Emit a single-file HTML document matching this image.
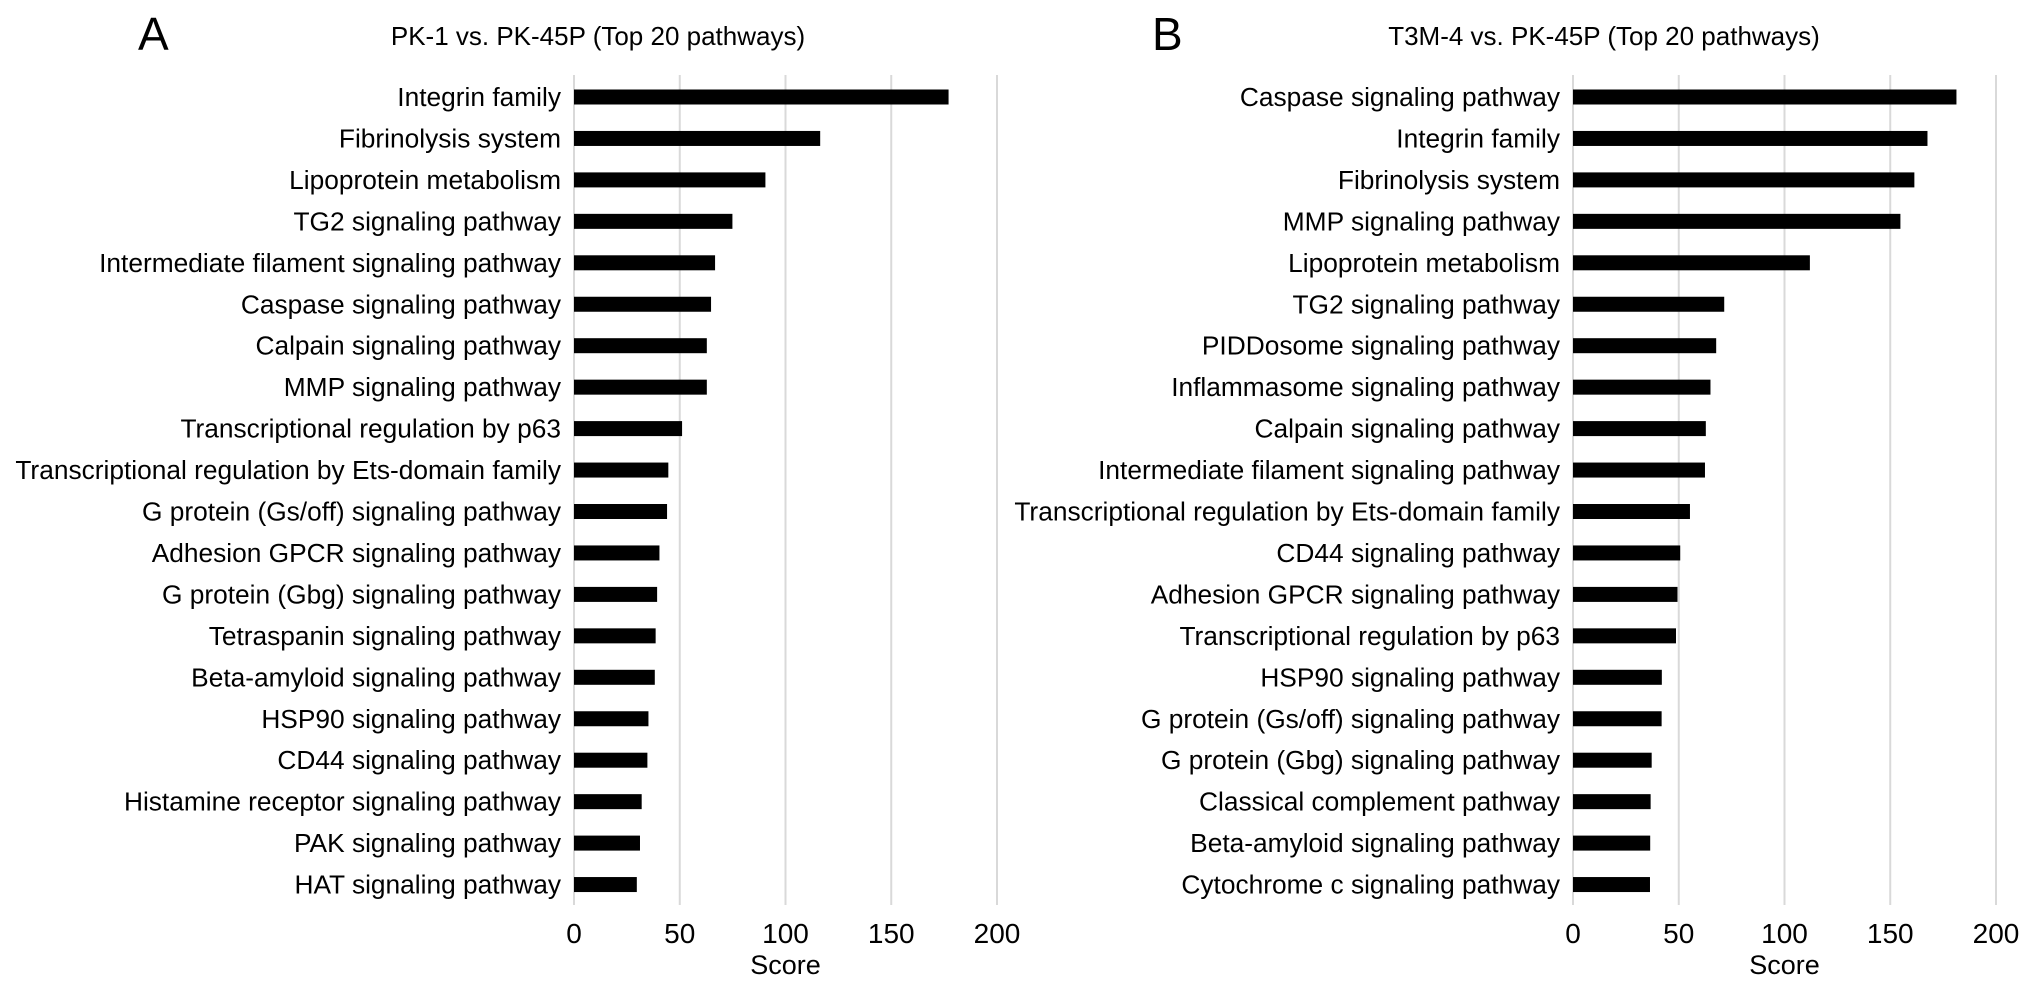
<!DOCTYPE html>
<html><head><meta charset="utf-8"><style>
html,body{margin:0;padding:0;background:#fff;}
svg{display:block;font-family:"Liberation Sans",Arial,sans-serif;}
</style></head><body>
<svg id="chart" width="2032" height="983" viewBox="0 0 2032 983" xmlns="http://www.w3.org/2000/svg">
<text x="138" y="50" font-size="46">A</text>
<text x="598" y="45" font-size="26" text-anchor="middle">PK-1 vs. PK-45P (Top 20 pathways)</text>
<text x="1152" y="50" font-size="46">B</text>
<text x="1604" y="45" font-size="26" text-anchor="middle">T3M-4 vs. PK-45P (Top 20 pathways)</text>
<g id="panelA"></g>
<g id="panelB"></g>
</svg>
<script>
const categoriesA = ["Integrin family","Fibrinolysis system","Lipoprotein metabolism","TG2 signaling pathway","Intermediate filament signaling pathway","Caspase signaling pathway","Calpain signaling pathway","MMP signaling pathway","Transcriptional regulation by p63","Transcriptional regulation by Ets-domain family","G protein (Gs/off) signaling pathway","Adhesion GPCR signaling pathway","G protein (Gbg)  signaling pathway","Tetraspanin signaling pathway","Beta-amyloid signaling pathway","HSP90 signaling pathway","CD44 signaling pathway","Histamine receptor signaling pathway","PAK signaling pathway","HAT signaling pathway"];
const valuesA = [177.1,116.4,90.5,74.9,66.7,64.8,62.8,62.8,51.1,44.6,44.0,40.4,39.3,38.6,38.2,35.2,34.7,32.0,31.2,29.7];
const categoriesB = ["Caspase signaling pathway","Integrin family","Fibrinolysis system","MMP signaling pathway","Lipoprotein metabolism","TG2 signaling pathway","PIDDosome signaling pathway","Inflammasome signaling pathway","Calpain signaling pathway","Intermediate filament signaling pathway","Transcriptional regulation by Ets-domain family","CD44 signaling pathway","Adhesion GPCR signaling pathway","Transcriptional regulation by p63","HSP90 signaling pathway","G protein (Gs/off) signaling pathway","G protein (Gbg) signaling pathway","Classical complement pathway","Beta-amyloid signaling pathway","Cytochrome c signaling pathway"];
const valuesB = [181.3,167.6,161.4,154.8,112.0,71.5,67.7,65.0,62.8,62.4,55.3,50.7,49.4,48.7,42.0,41.9,37.2,36.7,36.5,36.4];
const ticks = [0,50,100,150,200];
const tickLabels = ["0","50","100","150","200"];
const NS = "http://www.w3.org/2000/svg";
function mk(tag, attrs, parent){const e=document.createElementNS(NS,tag);for(const k in attrs)e.setAttribute(k,attrs[k]);parent.appendChild(e);return e;}
function draw(g, cats, vals, x0, x1){
  const xs = v => x0 + (v/200)*(x1-x0);
  const y0 = 97, step = 41.45, bh = 15;
  const ys = i => y0 + i*step;
  ticks.forEach((t,i)=>{
    const l = mk("line",{x1:xs(t),x2:xs(t),y1:75,y2:905,stroke:"#d9d9d9","stroke-width":2},g);
    
    
    const tx = mk("text",{x:xs(t),y:943,"font-size":28,"text-anchor":"middle"},g);
    tx.textContent = tickLabels[i];
    
    
  });
  const st = mk("text",{x:xs(100),y:974,"font-size":27,"text-anchor":"middle"},g);
  st.textContent = "Score";
  
  
  cats.forEach((c,i)=>{
    const r = mk("rect",{x:xs(0),y:ys(i)-bh/2,width:xs(vals[i])-xs(0),height:bh,fill:"#000"},g);
    
    
    const t = mk("text",{x:x0-13,y:ys(i)+9,"font-size":26.3,"text-anchor":"end"},g);
    t.textContent = c;
    
    
  });
}
draw(document.getElementById("panelA"), categoriesA, valuesA, 574, 997);
draw(document.getElementById("panelB"), categoriesB, valuesB, 1573, 1996);
</script>
</body></html>
